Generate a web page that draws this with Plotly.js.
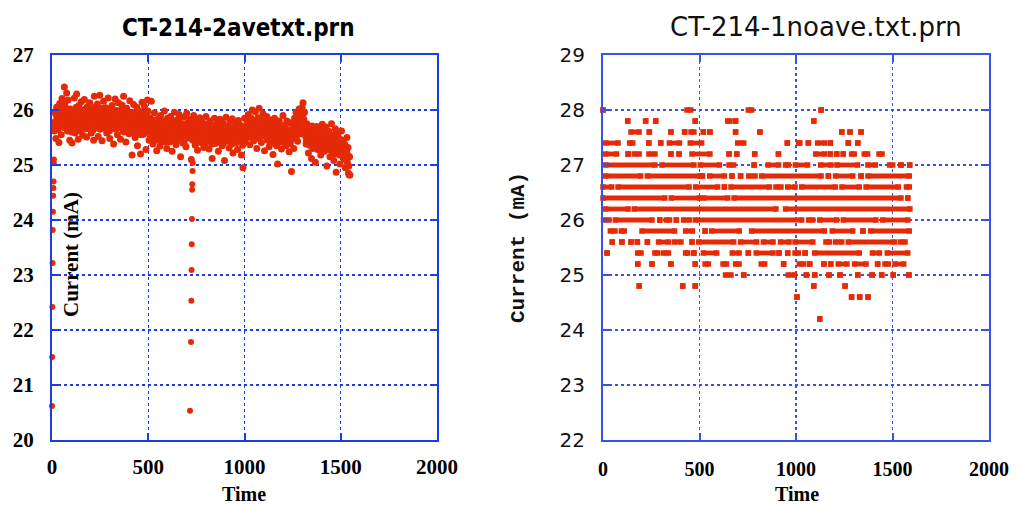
<!DOCTYPE html>
<html>
<head>
<meta charset="utf-8">
<script src="https://cdn.plot.ly/plotly-3.0.1.min.js"></script>
<style>html,body{margin:0;padding:0;background:#fff;}#chart{width:1017px;height:505px;}</style>
</head>
<body>
<div id="chart"></div>
<script>
// ---------- Left chart: CT-214-2avetxt.prn ----------
const leftTitle = 'CT-214-2avetxt.prn';
const rightTitle = 'CT-214-1noave.txt.prn';
const xTickVals = [0, 500, 1000, 1500, 2000];
const leftYTicks = [20, 21, 22, 23, 24, 25, 26, 27];
const rightYTicks = [22, 23, 24, 25, 26, 27, 28, 29];

// start-up ramp (time, current)
const rampTime = [0, 1, 2, 3, 4, 5, 6, 7, 8, 9, 10];
const rampCurrent = [20.62, 21.51, 22.42, 23.22, 23.82, 24.15, 24.44, 24.58, 24.70, 25.03, 25.10];

// dip near t ~ 720
const dipTime = [717, 722, 724, 725, 726, 727, 728, 729, 730, 731];
const dipCurrent = [20.53, 21.78, 22.53, 23.09, 23.56, 24.02, 24.55, 24.65, 24.89, 25.04];

// averaged series, readings every 4 time units from t = 12 (set A) and from t = 14 (set B)
const mainStep = 4;
const startA = 12;
const currentA = [
25.62,25.95,25.48,26.05,25.72,25.88,25.41,26.12,25.79,25.55,26.21,25.93,25.68,26.42,26.05,25.84,26.31,25.62,26.18,25.91,25.45,26.02,25.76,25.40,25.97,
25.83,26.22,25.58,25.94,26.29,25.71,25.47,26.08,25.86,25.63,26.15,25.92,25.54,25.99,26.19,25.74,25.88,25.51,26.06,25.81,25.66,26.13,25.90,25.58,26.02,
25.77,25.45,26.25,25.95,25.69,25.86,26.11,25.52,25.83,26.27,25.74,25.98,25.44,25.91,26.16,25.67,25.85,26.04,25.58,25.79,26.22,25.90,25.48,25.96,25.73,
26.08,25.84,25.38,25.93,26.20,25.65,25.88,25.55,26.13,25.79,25.96,25.47,25.82,26.09,25.71,26.25,25.60,25.89,25.42,26.03,25.77,25.94,25.57,26.17,25.85,
25.62,25.18,25.95,26.10,25.73,25.50,25.88,26.05,25.35,25.80,25.98,25.66,25.20,25.91,26.14,25.75,25.56,26.07,25.84,25.28,25.93,26.18,25.68,25.45,25.86,
25.52,26.16,25.60,25.38,25.78,25.95,25.47,25.66,25.26,25.83,25.58,25.71,25.34,25.90,25.55,25.44,25.76,25.62,25.98,25.49,25.68,25.30,25.85,25.57,25.73,
25.42,25.88,25.64,25.25,25.79,25.53,25.96,25.61,25.37,25.82,25.70,25.46,25.92,25.58,25.15,25.75,25.63,25.40,25.87,25.55,25.72,25.33,25.94,25.60,25.49,
25.66,25.83,25.52,25.10,25.74,25.45,25.90,25.58,25.36,25.81,25.65,25.27,25.70,25.49,25.86,25.57,25.41,25.78,25.62,25.32,25.75,25.51,25.88,25.44,25.68,
25.55,25.29,25.80,25.63,25.46,25.12,25.72,25.58,25.85,25.39,25.66,25.50,25.78,25.25,25.61,25.83,25.47,25.69,25.35,25.76,25.54,25.08,25.64,25.87,25.43,
25.70,25.52,25.31,25.79,25.60,25.45,25.84,25.22,25.67,25.55,25.40,25.76,25.58,25.28,25.81,25.63,25.48,25.72,25.18,25.57,24.95,25.66,25.85,25.42,25.61,
25.74,25.50,25.92,25.63,25.37,25.86,25.55,26.00,25.69,25.44,25.81,25.97,25.58,25.30,25.77,25.65,26.03,25.52,25.84,25.41,25.71,25.93,25.60,25.26,25.79,
25.56,25.88,25.45,25.70,25.33,25.82,25.61,25.49,25.76,25.19,25.66,25.85,25.52,25.38,25.74,25.02,25.63,25.80,25.47,25.58,25.29,25.72,25.90,25.54,25.41,
25.68,25.35,25.80,25.52,25.62,25.24,25.77,25.46,24.88,25.58,25.71,25.30,25.85,25.55,25.96,25.66,25.43,25.88,26.02,25.74,25.92,25.57,26.05,26.13,25.83,
25.96,25.64,25.38,25.75,25.52,25.22,25.68,25.45,25.58,25.12,25.71,25.36,25.49,25.62,25.05,25.43,25.70,25.28,25.55,25.39,25.66,25.18,25.47,25.74,25.33,
25.58,25.25,25.44,25.69,24.98,25.52,25.37,25.61,25.15,25.46,25.75,25.30,25.54,25.08,25.42,25.66,24.87,25.35,25.58,25.20,25.48,25.02,25.39,25.62,25.27,
25.45,25.12,25.38,24.95,25.30,25.50,25.18,24.85,24.82,24.82
];
const startB = 14;
const currentB = [
25.78,25.70,25.92,25.85,25.64,26.00,25.88,25.75,25.95,25.82,26.04,25.71,25.90,26.10,25.86,25.97,25.74,26.02,25.80,25.68,25.93,25.85,25.60,25.88,25.72,
25.95,25.80,25.70,26.05,25.86,25.62,25.90,25.77,26.00,25.84,25.68,25.96,25.79,25.88,25.73,26.02,25.66,25.92,25.81,25.75,25.98,25.70,25.86,25.80,25.91,
25.63,25.88,25.82,26.06,25.76,25.95,25.70,25.86,25.99,25.65,25.83,25.78,26.03,25.72,25.90,25.81,25.97,25.69,25.87,25.93,25.75,25.62,25.84,26.01,25.79,
25.70,25.95,25.80,25.66,25.88,25.99,25.74,25.83,25.91,25.68,25.86,25.77,26.02,25.84,25.62,25.90,25.79,25.73,25.96,25.85,25.67,25.88,25.78,25.92,25.70,
25.80,25.66,25.92,25.75,25.58,25.86,25.70,25.95,25.62,25.83,25.74,25.90,25.55,25.79,25.87,25.65,25.93,25.72,25.60,25.84,25.76,25.98,25.63,25.81,25.70,
25.68,25.75,25.50,25.82,25.62,25.56,25.71,25.45,25.66,25.78,25.52,25.60,25.74,25.48,25.69,25.80,25.57,25.64,25.42,25.72,25.58,25.67,25.50,25.76,25.61,
25.70,25.55,25.46,25.66,25.78,25.59,25.50,25.72,25.63,25.44,25.68,25.80,25.54,25.61,25.48,25.74,25.57,25.66,25.40,25.69,25.62,25.52,25.76,25.58,25.65,
25.55,25.62,25.70,25.48,25.58,25.66,25.52,25.74,25.45,25.60,25.56,25.69,25.50,25.63,25.42,25.71,25.54,25.60,25.47,25.68,25.58,25.40,25.64,25.53,25.72,
25.48,25.60,25.52,25.70,25.38,25.58,25.64,25.45,25.55,25.72,25.50,25.62,25.42,25.57,25.68,25.53,25.46,25.61,25.56,25.40,25.66,25.51,25.59,25.48,25.63,
25.56,25.44,25.65,25.52,25.60,25.38,25.58,25.68,25.47,25.54,25.62,25.41,25.57,25.70,25.50,25.45,25.60,25.53,25.64,25.36,25.55,25.48,25.62,25.57,25.51,
25.62,25.70,25.55,25.78,25.60,25.66,25.50,25.74,25.82,25.58,25.64,25.72,25.48,25.68,25.86,25.57,25.63,25.75,25.52,25.69,25.80,25.56,25.65,25.73,25.60,
25.52,25.64,25.58,25.46,25.70,25.54,25.40,25.62,25.56,25.48,25.66,25.50,25.60,25.35,25.58,25.45,25.68,25.53,25.62,25.42,25.57,25.66,25.50,25.60,25.55,
25.58,25.50,25.64,25.42,25.55,25.62,25.38,25.57,25.48,25.66,25.52,25.60,25.70,25.63,25.78,25.55,25.82,25.68,25.75,25.90,25.72,25.85,25.66,25.94,25.70,
25.60,25.52,25.45,25.58,25.40,25.50,25.36,25.56,25.44,25.62,25.30,25.48,25.55,25.38,25.46,25.58,25.33,25.50,25.42,25.54,25.28,25.45,25.60,25.37,25.50,
25.40,25.52,25.32,25.46,25.36,25.55,25.28,25.44,25.38,25.50,25.24,25.42,25.34,25.48,25.20,25.38,25.30,25.45,25.26,25.40,25.18,25.35,25.28,25.42,25.22,
25.30,25.20,25.36,25.10,25.25,25.05,25.32,24.98,25.15
];
const timeA = currentA.map((_, i) => startA + i * mainStep);
const timeB = currentB.map((_, i) => startB + i * mainStep);

// ---------- Right chart: CT-214-1noave.txt.prn ----------
// quantised levels; each list holds [start, end] time pairs of consecutive readings at that level
const lv280 = [0,0, 435,455, 753,770, 1130,1130];
const lv278 = [128,128, 221,221, 273,273, 478,478, 646,658, 687,687, 1092,1092];
const lv276 = [145,187, 240,240, 352,352, 423,423, 456,471, 520,520, 554,554, 687,687, 813,813, 1237,1237, 1280,1280, 1337,1337];
const lv274 = [14,78, 138,154, 237,237, 299,299, 344,396, 452,511, 698,729, 955,955, 1014,1020, 1064,1064, 1112,1147, 1178,1178, 1271,1271, 1320,1320];
const lv272 = [14,70, 130,130, 162,187, 238,269, 352,352, 394,394, 461,554, 653,653, 693,693, 786,786, 909,909, 1102,1147, 1178,1178, 1211,1211, 1245,1245, 1288,1302, 1354,1371, 1430,1446];
const lv270 = [14,269, 306,471, 504,603, 653,677, 783,783, 855,910, 946,960, 997,1060, 1128,1181, 1212,1319, 1373,1411, 1485,1501, 1544,1544, 1589,1589];
const lv268 = [14,195, 230,501, 515,515, 553,629, 668,668, 713,713, 755,788, 822,1130, 1168,1168, 1205,1294, 1337,1337, 1373,1587];
const lv266 = [0,45, 78,446, 480,594, 629,629, 663,862, 896,922, 957,995, 1029,1204, 1238,1328, 1363,1530, 1572,1587];
const lv264 = [0,320, 354,500, 522,646, 679,1544, 1579,1579];
const lv262 = [14,130, 162,896, 946,1590];
const lv260 = [3,31, 64,254, 294,294, 328,345, 380,380, 418,449, 480,1029, 1066,1087, 1123,1211, 1245,1414, 1449,1579];
const lv258 = [38,62, 95,110, 202,371, 428,463, 529,529, 563,706, 770,1147, 1188,1294, 1347,1347, 1387,1587];
const lv256 = [48,48, 98,98, 145,145, 178,178, 230,230, 288,339, 370,404, 461,461, 496,677, 713,796, 831,881, 920,964, 995,1087, 1155,1173, 1205,1237, 1271,1509, 1540,1565];
const lv254 = [21,21, 180,197, 269,283, 313,339, 428,439, 471,471, 520,589, 670,705, 753,753, 794,881, 912,912, 957,957, 995,1012, 1047,1047, 1097,1328, 1396,1432, 1473,1579];
const lv252 = [180,180, 254,254, 352,352, 478,478, 529,546, 622,640, 687,705, 820,838, 936,936, 1017,1040, 1071,1071, 1145,1145, 1180,1180, 1219,1264, 1304,1363, 1423,1423, 1461,1478, 1513,1558];
const lv250 = [635,663, 729,729, 960,991, 1053,1055, 1097,1097, 1171,1171, 1228,1228, 1320,1320, 1394,1394, 1444,1444, 1504,1504, 1585,1585];
const lv248 = [188,188, 413,413, 478,478, 1092,1092, 1254,1254];
const lv246 = [1005,1005, 1288,1288, 1330,1330, 1373,1373];
const lv242 = [1123,1123];

const levelValues = [28.0, 27.8, 27.6, 27.4, 27.2, 27.0, 26.8, 26.6, 26.4, 26.2, 26.0, 25.8, 25.6, 25.4, 25.2, 25.0, 24.8, 24.6, 24.2];
const levelRuns = [lv280, lv278, lv276, lv274, lv272, lv270, lv268, lv266, lv264, lv262, lv260, lv258, lv256, lv254, lv252, lv250, lv248, lv246, lv242];

// ---------- styling ----------
const RED = '#e52a08';
const BLUE_L = '#1c3ee0';
const BLUE_R = '#3552ec';

const rx = [], ry = [];
levelValues.forEach((lvl, k) => {
  const r = levelRuns[k];
  for (let i = 0; i < r.length; i += 2) {
    rx.push(r[i], r[i + 1], null);
    ry.push(lvl, lvl, null);
  }
});

const traces = [
  {x: rampTime, y: rampCurrent, xaxis: 'x', yaxis: 'y', type: 'scatter', mode: 'markers',
   marker: {color: RED, size: 6}, cliponaxis: false, hoverinfo: 'skip'},
  {x: timeB, y: currentB, xaxis: 'x', yaxis: 'y', type: 'scatter', mode: 'markers',
   marker: {color: RED, size: 7}, cliponaxis: false, hoverinfo: 'skip'},
  {x: timeA, y: currentA, xaxis: 'x', yaxis: 'y', type: 'scatter', mode: 'markers',
   marker: {color: RED, size: 7}, cliponaxis: false, hoverinfo: 'skip'},
  {x: dipTime, y: dipCurrent, xaxis: 'x', yaxis: 'y', type: 'scatter', mode: 'markers',
   marker: {color: RED, size: 6}, cliponaxis: false, hoverinfo: 'skip'},
  {x: rx, y: ry, xaxis: 'x2', yaxis: 'y2', type: 'scatter', mode: 'lines+markers',
   line: {color: RED, width: 4.8}, marker: {color: RED, size: 5.5, symbol: 'square'},
   connectgaps: false, cliponaxis: false, hoverinfo: 'skip'}
];

function axisBase(color, font) {
  return {
    showline: true, linecolor: color, linewidth: 2, mirror: 'ticks',
    showgrid: true, gridcolor: color, griddash: 'dot', gridwidth: 1.3,
    zeroline: false, ticks: 'inside', ticklen: 7, tickwidth: 2, tickcolor: color,
    tickfont: font, fixedrange: true
  };
}
const serifBold = {family: 'Liberation Serif, Times New Roman, serif', size: 21, color: '#000', weight: 'bold'};
const serifBoldR = {family: 'Liberation Serif, Times New Roman, serif', size: 20, color: '#000', weight: 'bold'};
const sansTick = {family: 'DejaVu Sans, Verdana, sans-serif', size: 20, color: '#111'};

const W = 1017, H = 505;
const yDom = [1 - 440 / H, 1 - 55 / H];

const layout = {
  width: W, height: H, margin: {l: 0, r: 0, t: 0, b: 0},
  paper_bgcolor: '#fff', plot_bgcolor: '#fff', showlegend: false,
  xaxis: Object.assign(axisBase(BLUE_L, serifBold), {domain: [52 / W, 437 / W], range: [0, 2000],
    tickvals: xTickVals, ticklabelstandoff: 7, anchor: 'y'}),
  yaxis: Object.assign(axisBase(BLUE_L, serifBold), {domain: yDom, range: [20, 27],
    tickvals: leftYTicks, ticklabelstandoff: 12, anchor: 'x'}),
  xaxis2: Object.assign(axisBase(BLUE_R, serifBoldR), {domain: [603 / W, 989 / W], range: [0, 2000],
    tickvals: xTickVals, ticklabelstandoff: 10, anchor: 'y2'}),
  yaxis2: Object.assign(axisBase(BLUE_R, sansTick), {domain: yDom, range: [22, 29],
    tickvals: rightYTicks, ticklabelstandoff: 12, anchor: 'x2'}),
  annotations: [
    {text: leftTitle, xref: 'paper', yref: 'paper', x: 238 / W, y: 1 - 28 / H, xanchor: 'center', yanchor: 'middle',
     showarrow: false, font: {family: 'Liberation Sans Narrow, DejaVu Sans Condensed, Roboto, sans-serif', size: 24, color: '#000', weight: 'bold'}},
    {text: rightTitle, xref: 'paper', yref: 'paper', x: 816 / W, y: 1 - 27 / H, xanchor: 'center', yanchor: 'middle',
     showarrow: false, font: {family: 'DejaVu Sans, Verdana, sans-serif', size: 26, color: '#111'}},
    {text: 'Time', xref: 'paper', yref: 'paper', x: 244 / W, y: 1 - 494 / H, xanchor: 'center', yanchor: 'middle',
     showarrow: false, font: {family: 'Liberation Serif, Times New Roman, serif', size: 20, color: '#000', weight: 'bold'}},
    {text: 'Time', xref: 'paper', yref: 'paper', x: 797 / W, y: 1 - 494 / H, xanchor: 'center', yanchor: 'middle',
     showarrow: false, font: {family: 'Liberation Serif, Times New Roman, serif', size: 20, color: '#000', weight: 'bold'}},
    {text: 'Current (mA)', xref: 'paper', yref: 'paper', x: 71 / W, y: 1 - 255 / H, xanchor: 'center', yanchor: 'middle',
     textangle: -90, showarrow: false, font: {family: 'Liberation Serif, Times New Roman, serif', size: 21, color: '#000', weight: 'bold'}},
    {text: 'Current (mA)', xref: 'paper', yref: 'paper', x: 518 / W, y: 1 - 248 / H, xanchor: 'center', yanchor: 'middle',
     textangle: -90, showarrow: false, font: {family: 'Liberation Mono, DejaVu Sans Mono, monospace', size: 21, color: '#111', weight: 'bold'}}
  ]
};

Plotly.newPlot('chart', traces, layout, {staticPlot: true, displayModeBar: false});
</script>
</body>
</html>
